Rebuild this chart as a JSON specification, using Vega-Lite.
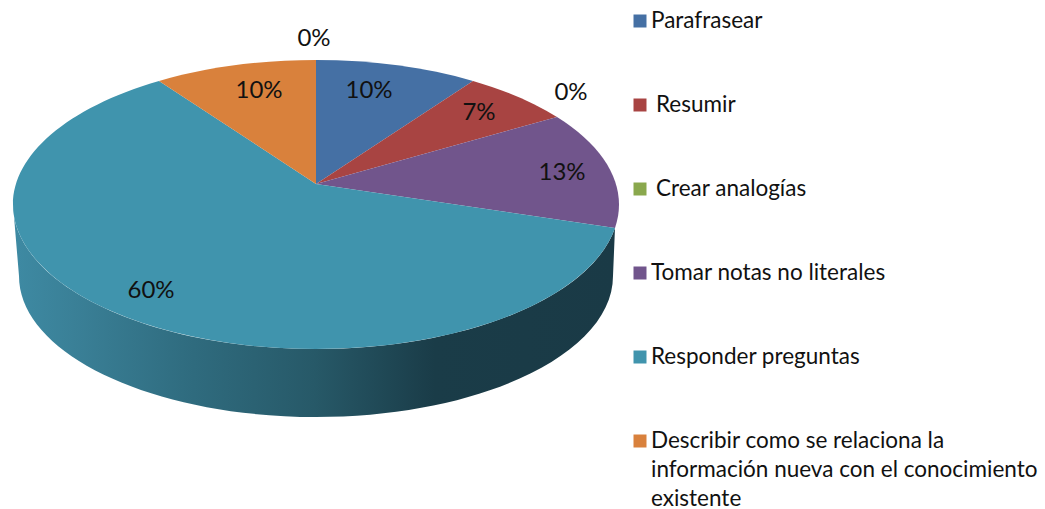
{
"$schema":"https://vega.github.io/schema/vega-lite/v6.json",
"width":632,"height":409,
"autosize":{"type":"none"},
"padding":{"left":0,"top":0,"right":413,"bottom":100},
"background":"white",
"config":{"view":{"stroke":null},"font":"Lato"},
"data":{"values":[
{"categoria":"Parafrasear","valor":0.10},
{"categoria":"Resumir","valor":0.07},
{"categoria":"Crear analogías","valor":0.00},
{"categoria":"Tomar notas no literales","valor":0.13},
{"categoria":"Responder preguntas","valor":0.60},
{"categoria":"Describir como se relaciona la|información nueva con el conocimiento|existente","valor":0.10},
{"categoria":"Sin nombre","valor":0.00}
]},
"transform":[{"window":[{"op":"row_number","as":"orden"}]},{"calculate":"split(datum.categoria,'|')","as":"lineas"}],
"layer":[
{"transform":[{"filter":"datum.categoria === 'Responder preguntas'"}],
 "mark":{"type":"point","filled":true,"opacity":1,"size":4,"strokeWidth":0,
  "shape":"M-303 0 L-297 71.5 A297 141 0 0 0 297 71.5 L299 23.5 A303 144.5 0 0 1 -303 0 Z",
  "fill":{"gradient":"linear","x1":0,"y1":0,"x2":1,"y2":0,"stops":[
   {"offset":0,"color":"#3e8aa3"},{"offset":0.1,"color":"#3a8097"},{"offset":0.3,"color":"#2f6b7e"},{"offset":0.5,"color":"#275968"},{"offset":0.7,"color":"#1a3c48"},{"offset":1,"color":"#1a3a46"}]}},
 "encoding":{}},
{"transform":[{"filter":"datum.valor > 0"}],
 "mark":{"type":"point","filled":true,"opacity":1,"size":4,"strokeWidth":0},
 "encoding":{
  "shape":{"field":"categoria","type":"nominal","legend":null,"scale":{
   "domain":["Parafrasear","Resumir","Tomar notas no literales","Responder preguntas","Describir como se relaciona la|información nueva con el conocimiento|existente"],
   "range":[
    "M0 -20.5 L0 -144.5 A303 144.5 0 0 1 157 -123.6 Z",
    "M0 -20.5 L157 -123.6 A303 144.5 0 0 1 241 -87.5 Z",
    "M0 -20.5 L241 -87.5 A303 144.5 0 0 1 299 23.5 Z",
    "M0 -20.5 L299 23.5 A303 144.5 0 1 1 -157 -123.6 Z",
    "M0 -20.5 L-157 -123.6 A303 144.5 0 0 1 0 -144.5 Z"]}},
  "color":{"field":"categoria","type":"nominal","legend":null,"scale":{
   "domain":["Parafrasear","Resumir","Crear analogías","Tomar notas no literales","Responder preguntas","Describir como se relaciona la|información nueva con el conocimiento|existente"],
   "range":["#4570a4","#a84442","#8aa84d","#71558c","#4094ad","#d9813c"]}}
 }},
{"mark":{"type":"text","fontSize":24,"font":"Lato","color":"#111111","align":"center","baseline":"middle"},
 "encoding":{
  "text":{"field":"valor","type":"quantitative","format":".0%"},
  "x":{"field":"orden","type":"quantitative","axis":null,"scale":{"domain":[1,2,3,4,5,6,7],"range":[369,479,571,562,151,259,314],"nice":false,"zero":false}},
  "y":{"field":"orden","type":"quantitative","axis":null,"scale":{"domain":[1,2,3,4,5,6,7],"range":[91,113,93,173,291,91,39],"nice":false,"zero":false}}
 }},
{"transform":[{"filter":"datum.orden <= 6"}],
 "mark":{"type":"point","shape":"square","filled":true,"opacity":1,"size":169,"strokeWidth":0},
 "encoding":{
  "x":{"field":"orden","type":"quantitative","axis":null,"scale":{"domain":[1,6],"range":[640,640],"nice":false,"zero":false}},
  "y":{"field":"orden","type":"quantitative","axis":null,"scale":{"domain":[1,6],"range":[21,441],"nice":false,"zero":false}},
  "color":{"field":"categoria","type":"nominal","legend":null,"scale":{
   "domain":["Parafrasear","Resumir","Crear analogías","Tomar notas no literales","Responder preguntas","Describir como se relaciona la|información nueva con el conocimiento|existente"],
   "range":["#4570a4","#a84442","#8aa84d","#71558c","#4094ad","#d9813c"]}}
 }},
{"transform":[{"filter":"datum.orden <= 6"}],
 "mark":{"type":"text","fontSize":22.5,"font":"Lato","color":"#111111","align":"left","baseline":"alphabetic","lineHeight":29,"dy":7,"limit":0},
 "encoding":{
  "text":{"field":"lineas"},
  "x":{"field":"orden","type":"quantitative","axis":null,"scale":{"domain":[1,2,3,4,5,6],"range":[651,656,656,651,651,651],"nice":false,"zero":false}},
  "y":{"field":"orden","type":"quantitative","axis":null,"scale":{"domain":[1,6],"range":[21,441],"nice":false,"zero":false}}
 }}
],
"resolve":{"scale":{"x":"independent","y":"independent"}}
}
